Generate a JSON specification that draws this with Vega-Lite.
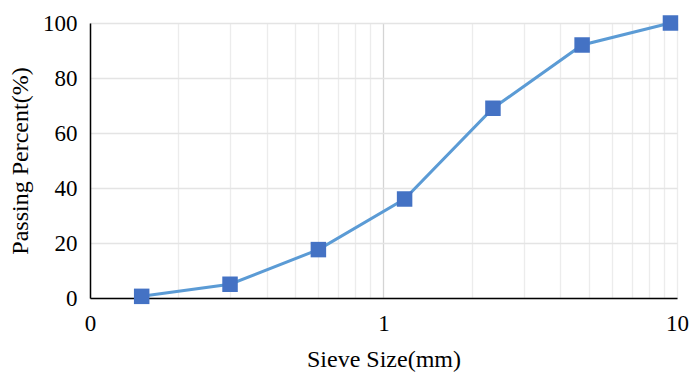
{
  "$schema": "https://vega.github.io/schema/vega-lite/v6.json",
  "width": 587,
  "height": 275,
  "autosize": {"type": "none"},
  "padding": {"left": 90, "top": 23, "right": 12, "bottom": 75},
  "background": "white",
  "config": {
    "view": {"stroke": null},
    "font": "Liberation Serif",
    "axis": {
      "labelFont": "Liberation Serif",
      "titleFont": "Liberation Serif",
      "labelColor": "black",
      "titleColor": "black",
      "titleFontWeight": "normal",
      "labelFontSize": 23,
      "titleFontSize": 24,
      "ticks": false,
      "domainColor": "black",
      "domainWidth": 1.5
    }
  },
  "data": {
    "values": [
      {"size": 0.15, "passing": 0.6},
      {"size": 0.3, "passing": 5},
      {"size": 0.6, "passing": 17.6},
      {"size": 1.18, "passing": 36},
      {"size": 2.36, "passing": 69},
      {"size": 4.75, "passing": 92},
      {"size": 9.5, "passing": 100}
    ]
  },
  "encoding": {
    "x": {
      "field": "size",
      "type": "quantitative",
      "scale": {"type": "log", "domain": [0.1, 10], "nice": false},
      "axis": {
        "title": "Sieve Size(mm)",
        "titlePadding": 12,
        "values": [0.1, 0.2, 0.3, 0.4, 0.5, 0.6, 0.7, 0.8, 0.9, 1, 2, 3, 4, 5, 6, 7, 8, 9, 10],
        "labelExpr": "datum.value == 0.1 ? '0' : (datum.value == 1 ? '1' : (datum.value == 10 ? '10' : ''))",
        "labelPadding": 14,
        "labelFlush": false,
        "grid": true,
        "gridColor": {"condition": {"test": "datum.value == 1", "value": "#d4d4d4"}, "value": "#ececec"},
        "gridWidth": 1.3
      }
    },
    "y": {
      "field": "passing",
      "type": "quantitative",
      "scale": {"domain": [0, 100], "nice": false},
      "axis": {
        "title": "Passing Percent(%)",
        "titlePadding": 10,
        "values": [0, 20, 40, 60, 80, 100],
        "labelPadding": 13,
        "grid": true,
        "gridColor": "#e4e4e4",
        "gridWidth": 1.3
      }
    }
  },
  "layer": [
    {"mark": {"type": "line", "color": "#5B9BD5", "strokeWidth": 3}},
    {"mark": {"type": "point", "shape": "square", "filled": true, "opacity": 1, "color": "#4472C4", "size": 240}}
  ]
}
